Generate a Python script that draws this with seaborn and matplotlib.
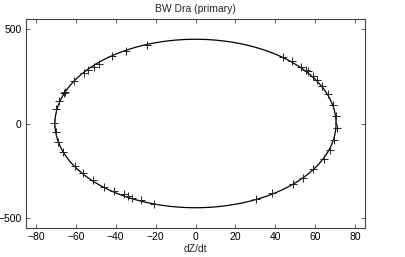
import numpy as np
import pandas as pd
import matplotlib
matplotlib.use("Agg")
import matplotlib.pyplot as plt
import seaborn as sns

# observed points (dZ/dt, Y)
obs_x = [-71.0, -70.2, -68.5, -66.0, -65.5, -60.7, -56.0, -54.0, -51.0, -48.5, -41.8, -34.8, -24.3,
         -70.2, -68.8, -66.3, -60.5, -56.5, -51.3, -46.0, -41.0, -36.0, -34.0, -31.8, -27.3, -21.0,
         44.0, 48.5, 53.0, 55.3, 56.5, 59.0, 60.7, 63.5, 66.5, 69.0, 70.5, 70.8,
         69.5, 67.3, 64.2, 59.0, 54.0, 49.0, 38.2, 30.5]
obs_y = [5, 74, 117, 160, 168, 225, 268, 284, 298, 315, 354, 381, 416,
         -46, -96, -150, -224, -263, -300, -336, -355, -374, -382, -391, -406, -423,
         350, 328, 298, 285, 275, 249, 232, 200, 155, 100, 42, -22,
         -89, -139, -186, -242, -287, -321, -369, -400]

# fitted ellipse parameters
semi_x = 70.5
semi_y = 445.0
center_x = 0.0
center_y = 0.0

x_ticks = [-80, -60, -40, -20, 0, 20, 40, 60, 80]
y_ticks = [-500, 0, 500]

sns.set_style("ticks")
plt.rcParams['font.family'] = ['Liberation Sans', 'DejaVu Sans']

t = np.linspace(0, 2 * np.pi, 721)
curve = pd.DataFrame({"x": center_x + semi_x * np.cos(t), "y": center_y + semi_y * np.sin(t)})
pts = pd.DataFrame({"x": obs_x, "y": obs_y})

fig = plt.figure(figsize=(4.06, 2.57), dpi=100)
ax = fig.add_axes([26 / 406, 1 - 228 / 257, (365 - 26) / 406, (228 - 19) / 257])

sns.lineplot(data=curve, x="x", y="y", sort=False, estimator=None, color="black", linewidth=0.9, ax=ax)
sns.scatterplot(data=pts, x="x", y="y", marker="+", s=36, color="#222222", linewidth=0.7, ax=ax, zorder=3)

ax.set_xlim(-85, 85)
ax.set_ylim(-552, 552)
ax.set_xticks(x_ticks)
ax.set_yticks(y_ticks)
ax.set_xticklabels([("\u2212" + str(abs(v))) if v < 0 else str(v) for v in x_ticks])
ax.set_yticklabels([("\u2212" + str(abs(v))) if v < 0 else str(v) for v in y_ticks])
ax.tick_params(direction="in", length=3, width=0.6, labelsize=7.5, top=True, right=True,
               color="#444444", labelcolor="black", pad=3)
for s in ax.spines.values():
    s.set_color("#444444")
    s.set_linewidth(0.8)
ax.set_xlabel("dZ/dt", fontsize=7.5, labelpad=1)
ax.set_ylabel("")
ax.set_title("BW Dra (primary)", fontsize=7.5, pad=5)

fig.savefig("out.png", dpi=100)
